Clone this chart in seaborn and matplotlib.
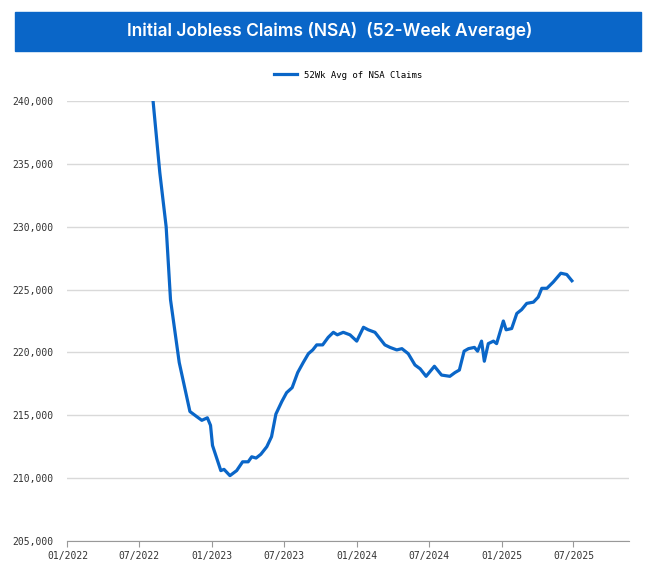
import matplotlib
matplotlib.use("Agg")
import matplotlib.pyplot as plt
import matplotlib.dates as mdates
from matplotlib.ticker import FuncFormatter
import seaborn as sns
import pandas as pd

dates = ["2022-08-05","2022-08-22","2022-09-07","2022-09-18","2022-10-10","2022-11-06","2022-11-23",
         "2022-12-06","2022-12-20","2022-12-28","2023-01-02","2023-01-23","2023-01-31","2023-02-15",
         "2023-03-04","2023-03-19","2023-04-02","2023-04-11","2023-04-22","2023-05-04","2023-05-19",
         "2023-05-31","2023-06-11","2023-06-26","2023-07-08","2023-07-22","2023-08-05","2023-08-19",
         "2023-09-01","2023-09-12","2023-09-22","2023-10-07","2023-10-21","2023-11-03","2023-11-13",
         "2023-11-28","2023-12-15","2024-01-01","2024-01-18","2024-01-30","2024-02-16","2024-03-12",
         "2024-03-25","2024-04-11","2024-04-24","2024-05-10","2024-05-27","2024-06-09","2024-06-24",
         "2024-07-15","2024-08-02","2024-08-23","2024-09-05","2024-09-16","2024-09-28","2024-10-09",
         "2024-10-24","2024-11-01","2024-11-11","2024-11-18","2024-11-28","2024-12-11","2024-12-19",
         "2025-01-05","2025-01-12","2025-01-26","2025-02-08","2025-02-20","2025-03-05","2025-03-22",
         "2025-04-03","2025-04-12","2025-04-25","2025-05-11","2025-05-30","2025-06-14","2025-06-27"]
claims = [240000,234300,230000,224200,219200,215300,214900,
          214600,214800,214200,212600,210600,210700,210200,
          210600,211300,211300,211700,211600,211900,212500,
          213300,215100,216100,216800,217200,218400,219200,
          219900,220200,220600,220600,221200,221600,221400,
          221600,221400,220900,222000,221800,221600,220600,
          220400,220200,220300,219900,219000,218700,218100,
          218900,218200,218100,218400,218600,220100,220300,
          220400,220100,220900,219300,220700,220900,220700,
          222500,221800,221900,223100,223400,223900,224000,
          224400,225100,225100,225600,226300,226200,225700]
series_name = "52Wk Avg of NSA Claims"
title = "Initial Jobless Claims (NSA)  (52-Week Average)"

df = pd.DataFrame({"date": pd.to_datetime(dates), "value": claims, "series": series_name})

fig = plt.figure(figsize=(6.59, 5.79), dpi=100)
ax = fig.add_axes([0.1024, 0.0656, 0.852, 0.760])
sns.lineplot(data=df, x="date", y="value", hue="series", palette=["#0a66c8"],
             linewidth=2.3, ax=ax)

ax.set_ylim(205000, 240000)
ax.set_xlim(pd.Timestamp("2022-01-01"), pd.Timestamp("2025-11-18"))
ax.set_yticks(range(205000, 240001, 5000))
ax.yaxis.set_major_formatter(FuncFormatter(lambda v, p: f"{int(v):,}"))
ax.xaxis.set_major_locator(mdates.MonthLocator(bymonth=[1, 7]))
ax.xaxis.set_major_formatter(mdates.DateFormatter("%m/%Y"))
mono = "DejaVu Sans Mono"
for lab in ax.get_xticklabels() + ax.get_yticklabels():
    lab.set_fontfamily(mono)
    lab.set_fontsize(7)
    lab.set_color("#333333")
ax.grid(axis="y", color="#d9d9d9", linewidth=1)
ax.set_axisbelow(True)
for s in ["top", "right", "left"]:
    ax.spines[s].set_visible(False)
ax.spines["bottom"].set_color("#999999")
ax.tick_params(axis="y", length=0, pad=10)
ax.tick_params(axis="x", length=4, color="#999999")
ax.set_xlabel("")
ax.set_ylabel("")
leg = ax.legend(loc="lower center", bbox_to_anchor=(0.5, 1.03), frameon=False,
                prop={"family": mono, "size": 6.5}, handlelength=2.5)
for line in leg.get_lines():
    line.set_linewidth(2.3)

fig.patches.append(plt.Rectangle((0.023, 0.912), 0.949, 0.068, transform=fig.transFigure,
                                 color="#0a66c8", zorder=0))
fig.text(0.5, 0.946, title, ha="center", va="center", color="white",
         fontsize=12.5, fontweight="semibold", fontfamily="Inter")
fig.savefig("out.png", dpi=100, facecolor="white")
